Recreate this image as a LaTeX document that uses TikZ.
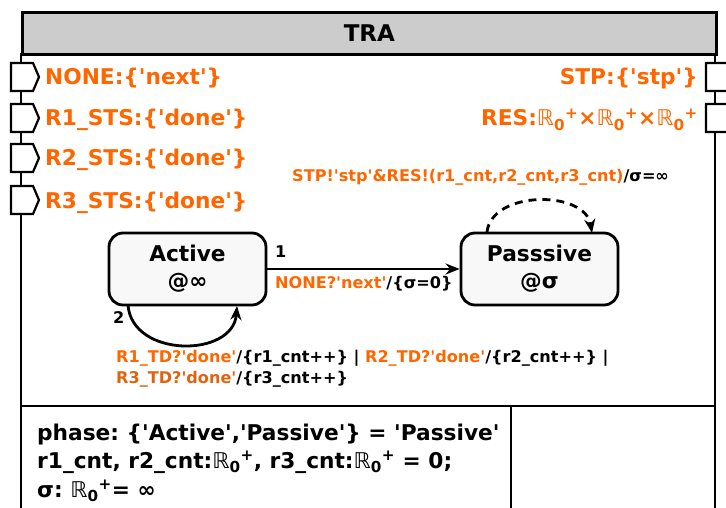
\documentclass[tikz,border=0pt]{standalone}
\usepackage{fontspec}
\newfontfamily\djv{DejaVu Sans}
\usetikzlibrary{arrows.meta,positioning}
\definecolor{portorange}{HTML}{FF6600}
\definecolor{portdark}{HTML}{E06410}
\definecolor{headgray}{HTML}{CCCCCC}
\definecolor{statefill}{HTML}{F8F8F8}
\newcommand{\Rpos}{{\mdseries ℝ}\textsubscript{0}\textsuperscript{+}}
\frenchspacing

\begin{document}
\begin{tikzpicture}[x=1pt,y=-1pt,
  bigtxt/.style={font=\djv\fontsize{21.7}{26}\selectfont\bfseries},
  smalltxt/.style={font=\djv\fontsize{16.1}{20}\selectfont\bfseries},
  state/.style={draw,line width=2.8pt,rounded corners=14pt,fill=statefill,
    minimum width=157pt,minimum height=72pt,align=center,
    font=\djv\fontsize{21.7}{27}\selectfont\bfseries},
  port/.style={line width=2.2pt,fill=white},
  trans/.style={line width=2.8pt,-{Stealth[length=14pt,width=11pt]}}]
\useasboundingbox (0,0) rectangle (726,508);
\clip (0,0) rectangle (726,508);

% frame, header and lower compartments
\node[draw,line width=2.8pt,fill=headgray,minimum width=694,minimum height=42,
  anchor=north west,font=\djv\fontsize{23}{27}\selectfont\bfseries] (head) at (21,11) {TRA};
\draw[line width=2.8pt] (21,53) -- (21,530);
\draw[line width=2.8pt] (715,53) -- (715,530);
\draw[line width=2.8pt] (21,406) -- (715,406);
\draw[line width=2.8pt] (511,406) -- (511,530);

% ports
\foreach \y in {77,118,158,200}
  \draw[port] (11,\y-14) -- (33,\y-14) -- (39,\y) -- (33,\y+14) -- (11,\y+14) -- cycle;
\foreach \y in {77,118}
  \draw[port] (706,\y-14) -- (728,\y-14) -- (734,\y) -- (728,\y+14) -- (706,\y+14) -- cycle;

% port labels
\node[bigtxt,text=portorange,anchor=base west,inner sep=0] (in1) at (45,85) {NONE:\{\char"27 next\char"27\}};
\node[bigtxt,text=portorange,anchor=base west,inner sep=0] (in2) at (45,126) {R1\_STS:\{\char"27 done\char"27\}};
\node[bigtxt,text=portorange,anchor=base west,inner sep=0] (in3) at (45,166) {R2\_STS:\{\char"27 done\char"27\}};
\node[bigtxt,text=portorange,anchor=base west,inner sep=0] (in4) at (45,208) {R3\_STS:\{\char"27 done\char"27\}};
\node[bigtxt,text=portorange,anchor=base east,inner sep=0] (out1) at (698,85) {STP:\{\char"27 stp\char"27\}};
\node[bigtxt,text=portorange,anchor=base east,inner sep=0] (out2) at (698,126) {RES:\Rpos×\Rpos×\Rpos};

% states
\node[state] (active) at (187.5,269) {Active\\@∞};
\node[state] (passive) at (539.5,269) {Passsive\\@σ};

% transitions
\draw[trans] (active.east) -- (passive.west);
\node[smalltxt,anchor=base west,inner sep=0] (t1) at (275,257) {1};
\node[smalltxt,anchor=base west,inner sep=0] (t1lbl) at (275,288)
  {\textcolor{portorange}{NONE?\char"27 next\char"27}/\{σ=0\}};

\coordinate (a1) at (128,305);
\coordinate (a2) at (237,306);
\draw[trans] (a1) .. controls (132,358) and (233,358) .. (a2);
\node[smalltxt,anchor=base west,inner sep=0] (t2) at (113,323) {2};
\node[smalltxt,anchor=base west,inner sep=0,align=left] (t2lbl) at (116,362)
  {\textcolor{portorange}{R1\_TD?\char"27 done\char"27}/\{r1\_cnt++\} | \textcolor{portorange}{R2\_TD?\char"27 done\char"27}/\{r2\_cnt++\} |};
\node[smalltxt,anchor=base west,inner sep=0] (t2lblb) at (116,383)
  {\textcolor{portdark}{R3\_TD?\char"27 done\char"27}/\{r3\_cnt++\}};

\coordinate (p1) at (487,232);
\coordinate (p2) at (592,233);
\draw[trans,dash pattern=on 8pt off 6pt] (p1) .. controls (492,190) and (585,190) .. (p2);
\node[smalltxt,anchor=base west,inner sep=0] (t3lbl) at (292,182)
  {\textcolor{portorange}{STP!\char"27 stp\char"27\&RES!(r1\_cnt,r2\_cnt,r3\_cnt)}/σ=∞};

% state variables
\node[bigtxt,anchor=base west,inner sep=0] (var1) at (37,440) {phase: \{\char"27 Active\char"27,\char"27 Passive\char"27\} = \char"27 Passive\char"27};
\node[bigtxt,anchor=base west,inner sep=0] (var2) at (37,468) {r1\_cnt, r2\_cnt:\Rpos, r3\_cnt:\Rpos\ = 0;};
\node[bigtxt,anchor=base west,inner sep=0] (var3) at (37,497) {σ: \Rpos= ∞};
\end{tikzpicture}
\end{document}
